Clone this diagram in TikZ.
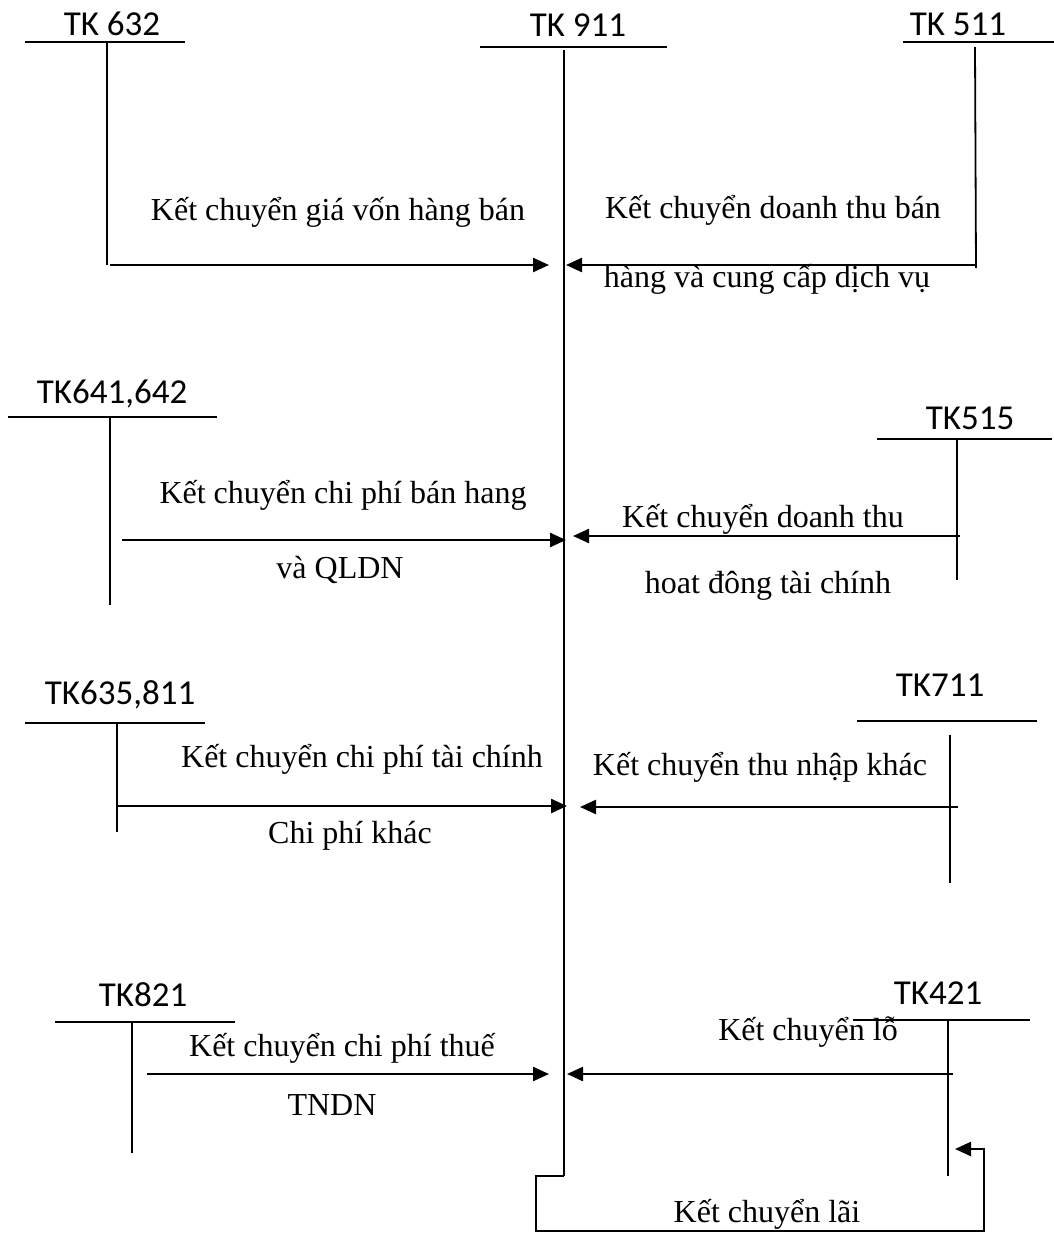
\documentclass[tikz,border=0pt]{standalone}
\usepackage{fontspec}
\setmainfont{Liberation Serif}
\newfontfamily\tkfont{Carlito}
\usetikzlibrary{arrows.meta}

\begin{document}
\begin{tikzpicture}[x=0.5pt,y=-0.5pt,
 tk/.style={inner sep=0pt,anchor=base,font=\tkfont\fontsize{17.5}{20}\selectfont},
 lbl/.style={inner sep=0pt,anchor=base,font=\fontsize{16}{19}\selectfont},
 tline/.style={line width=0.9pt},
 conn/.style={line width=1.2pt},
 >={Triangle[length=8pt,width=7pt]}]
\useasboundingbox (0,0) rectangle (1054,1259);
% tai khoan
\node[tk] (t632) at (112,35) {TK 632};
\node[tk] (t911) at (578,36) {TK 911};
\node[tk] (t511) at (958,35) {TK 511};
\node[tk] (t641) at (112,403) {TK641,642};
\node[tk] (t515) at (970,429) {TK515};
\node[tk] (t635) at (120,704) {TK635,811};
\node[tk] (t711) at (940,696) {TK711};
\node[tk] (t821) at (143,1006) {TK821};
\node[tk] (t421) at (938,1004) {TK421};
\draw[tline] (25,42) -- (185,42) (107,42) -- (107,265);
\draw[tline] (480,47) -- (667,47) (564,50) coordinate (top911) -- (564,1176) coordinate (bot911);
\draw[tline] (903,42) -- (1054,42) (975,47) -- (976,268);
\draw[tline] (8,417) -- (217,417) (110,417) -- (110,605);
\draw[tline] (877,439) -- (1052,439) (957,439) -- (957,580);
\draw[tline] (25,723) -- (205,723) (117,723) -- (117,832);
\draw[tline] (857,721) -- (1037,721) (950,735) -- (950,883);
\draw[tline] (55,1022) -- (235,1022) (132,1022) -- (132,1153);
\draw[tline] (853,1020) -- (1030,1020) (948,1020) -- (948,1176);
% diem den tren TK 911
\coordinate (a1) at (110,265); \coordinate (b1) at (549,265);
\coordinate (a2) at (975,265); \coordinate (b2) at (566,265);
\coordinate (a3) at (122,540); \coordinate (b3) at (566,540);
\coordinate (a4) at (960,536); \coordinate (b4) at (573,536);
\coordinate (a5) at (117,806); \coordinate (b5) at (567,806);
\coordinate (a6) at (958,807); \coordinate (b6) at (580,807);
\coordinate (a7) at (147,1074); \coordinate (b7) at (549,1074);
\coordinate (a8) at (953,1074); \coordinate (b8) at (567,1074);
\coordinate (b9) at (955,1149);
\draw[conn,->] (a1) -- (b1);
\draw[conn,->] (a2) -- (b2);
\draw[conn,->] (a3) -- (b3);
\draw[conn,->] (a4) -- (b4);
\draw[conn,->] (a5) -- (b5);
\draw[conn,->] (a6) -- (b6);
\draw[conn,->] (a7) -- (b7);
\draw[conn,->] (a8) -- (b8);
\draw[conn,->] (bot911) -- (536,1176) -- (536,1231) -- (984,1231) -- (984,1149) -- (b9);
% noi dung
\node[lbl] (l1) at (338,220) {Kết chuyển giá vốn hàng bán};
\node[lbl] (l2) at (773,218) {Kết chuyển doanh thu bán};
\node[lbl] (l2b) at (767,287) {hàng và cung cấp dịch vụ};
\node[lbl] (l3) at (343,503) {Kết chuyển chi phí bán hang};
\node[lbl] (l3b) at (340,578) {và QLDN};
\node[lbl] (l4) at (763,527) {Kết chuyển doanh thu};
\node[lbl] (l4b) at (768,593) {hoat đông tài chính};
\node[lbl] (l5) at (362,767) {Kết chuyển chi phí tài chính};
\node[lbl] (l5b) at (350,843) {Chi phí khác};
\node[lbl] (l6) at (760,775) {Kết chuyển thu nhập khác};
\node[lbl] (l7) at (342,1056) {Kết chuyển chi phí thuế};
\node[lbl] (l7b) at (332,1115) {TNDN};
\node[lbl] (l8) at (808,1040) {Kết chuyển lỗ};
\node[lbl] (l9) at (767,1222) {Kết chuyển lãi};
\end{tikzpicture}
\end{document}
